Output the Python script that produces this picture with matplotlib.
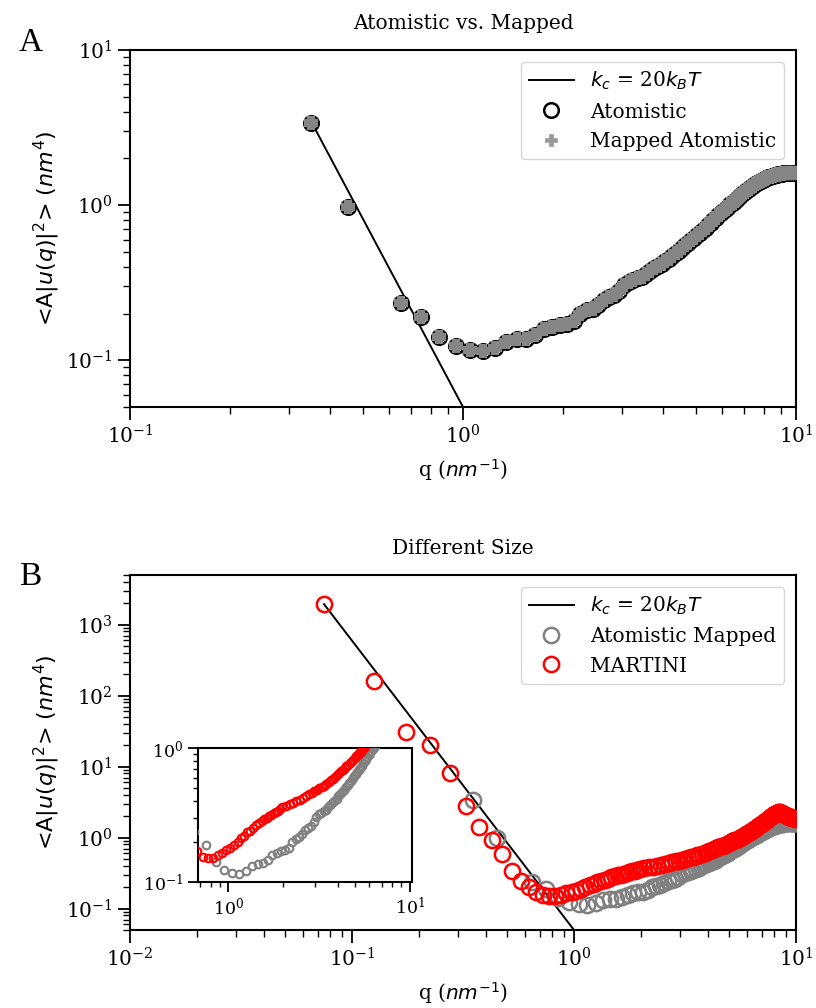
import matplotlib
matplotlib.use('Agg')
import matplotlib.pyplot as plt
from matplotlib.ticker import NullFormatter, LogLocator
from matplotlib.lines import Line2D

plt.rcParams['font.family'] = ['DejaVu Serif']
plt.rcParams['mathtext.fontset'] = 'dejavusans'
plt.rcParams['font.size'] = 14

# ---------------- data ----------------
atom_q = [0.35, 0.45, 0.65, 0.75, 0.85, 0.95, 1.05, 1.15, 1.25, 1.35, 1.45, 1.55,
          1.65, 1.75, 1.85, 1.95, 2.05, 2.15, 2.25, 2.35, 2.45, 2.55, 2.65, 2.75,
          2.85, 2.95, 3.05, 3.15, 3.25, 3.35, 3.45, 3.55, 3.65, 3.75, 3.85, 3.95,
          4.05, 4.15, 4.25, 4.35, 4.45, 4.55, 4.65, 4.75, 4.85, 4.95, 5.05, 5.15,
          5.25, 5.35, 5.45, 5.55, 5.65, 5.75, 5.85, 5.95, 6.05, 6.15, 6.25, 6.35,
          6.45, 6.55, 6.65, 6.75, 6.85, 6.95, 7.05, 7.15, 7.25, 7.35, 7.45, 7.55,
          7.65, 7.75, 7.85, 7.95, 8.05, 8.15, 8.25, 8.35, 8.45, 8.55, 8.65, 8.75,
          8.85, 8.95, 9.05, 9.15, 9.25, 9.35, 9.45, 9.55, 9.65, 9.75, 9.85, 9.95]
atom_y = [3.38, 0.98, 0.235, 0.19, 0.142, 0.123, 0.116, 0.114, 0.12, 0.132, 0.137, 0.138,
          0.145, 0.158, 0.165, 0.17, 0.172, 0.18, 0.20, 0.21, 0.215, 0.228, 0.245, 0.255,
          0.262, 0.28, 0.305, 0.322, 0.33, 0.338, 0.345, 0.36, 0.378, 0.392, 0.405, 0.42,
          0.435, 0.452, 0.47, 0.49, 0.51, 0.53, 0.55, 0.57, 0.595, 0.615, 0.64, 0.665,
          0.69, 0.715, 0.74, 0.77, 0.80, 0.83, 0.86, 0.89, 0.92, 0.95, 0.98, 1.01,
          1.04, 1.07, 1.10, 1.13, 1.16, 1.19, 1.22, 1.25, 1.28, 1.31, 1.33, 1.36,
          1.39, 1.42, 1.44, 1.46, 1.48, 1.50, 1.52, 1.53, 1.54, 1.55, 1.56, 1.57,
          1.58, 1.59, 1.59, 1.60, 1.60, 1.60, 1.61, 1.61, 1.61, 1.61, 1.61, 1.61]
mapped_y = list(atom_y)

martini_q = [0.075, 0.125, 0.175, 0.225, 0.275, 0.325, 0.375, 0.425, 0.475, 0.525,
             0.575, 0.625, 0.675, 0.725, 0.775, 0.825, 0.875, 0.925, 0.975, 1.025,
             1.075, 1.125, 1.175, 1.225, 1.275, 1.325, 1.375, 1.425, 1.475, 1.525,
             1.575, 1.625, 1.675, 1.725, 1.775, 1.825, 1.875, 1.925, 1.975,
             2.075, 2.175, 2.275, 2.375, 2.475, 2.575, 2.675, 2.775, 2.875, 2.975,
             3.075, 3.175, 3.275, 3.375, 3.475, 3.575, 3.675, 3.775, 3.875, 3.975,
             4.075, 4.175, 4.275, 4.375, 4.475, 4.575, 4.675, 4.775, 4.875, 4.975,
             5.075, 5.175, 5.275, 5.375, 5.475, 5.575, 5.675, 5.775, 5.875, 5.975,
             6.075, 6.175, 6.275, 6.375, 6.475, 6.575, 6.675, 6.775, 6.875, 6.975,
             7.075, 7.175, 7.275, 7.375, 7.475, 7.575, 7.675, 7.775, 7.875, 7.975,
             8.075, 8.175, 8.275, 8.375, 8.475, 8.575, 8.675, 8.775, 8.875, 8.975,
             9.075, 9.175, 9.275, 9.375, 9.475, 9.575, 9.675, 9.775, 9.875, 9.975]
martini_y = [1940, 162, 31, 20, 8.1, 2.8, 1.42, 0.94, 0.58, 0.335,
             0.243, 0.20, 0.17, 0.155, 0.15, 0.152, 0.158, 0.166, 0.172, 0.178,
             0.19, 0.20, 0.212, 0.22, 0.235, 0.242, 0.255, 0.265, 0.278, 0.285,
             0.295, 0.30, 0.31, 0.318, 0.325, 0.335, 0.34, 0.35, 0.36,
             0.37, 0.38, 0.39, 0.40, 0.41, 0.425, 0.44, 0.455, 0.465, 0.475,
             0.49, 0.50, 0.51, 0.525, 0.54, 0.56, 0.575, 0.59, 0.61, 0.63,
             0.65, 0.67, 0.69, 0.71, 0.73, 0.75, 0.77, 0.79, 0.81, 0.84,
             0.87, 0.89, 0.92, 0.94, 0.97, 1.00, 1.03, 1.06, 1.10, 1.13,
             1.17, 1.21, 1.25, 1.29, 1.33, 1.37, 1.41, 1.46, 1.50, 1.55,
             1.60, 1.65, 1.70, 1.76, 1.82, 1.88, 1.94, 2.00, 2.06, 2.12,
             2.18, 2.23, 2.27, 2.29, 2.28, 2.24, 2.20, 2.15, 2.10, 2.06,
             2.02, 1.99, 1.96, 1.94, 1.92, 1.90, 1.89, 1.87, 1.86, 1.85]

# k_c = 20 kBT reference lines (end points)
lineA_q = [0.352, 1.0]
lineA_y = [3.38, 0.05]
lineB_q = [0.0748, 1.0]
lineB_y = [1940, 0.05]

# ---------------- figure ----------------
fig = plt.figure(figsize=(8.16, 10.08), dpi=100)
axA = fig.add_axes([0.1593, 0.5962, 0.8162, 0.3542])
axB = fig.add_axes([0.1593, 0.0774, 0.8162, 0.3522])
axI = fig.add_axes([0.2426, 0.125, 0.2623, 0.1329])

FS = 14.5

def style(ax, big=True):
    ax.set_xscale('log')
    ax.set_yscale('log')
    for s in ax.spines.values():
        s.set_linewidth(1.5)
    L = 9 if big else 7
    ax.tick_params(which='major', length=L, width=1.3, direction='out',
                   labelsize=FS if big else 12.5)
    ax.tick_params(which='minor', length=L * 0.55, width=1.0, direction='out')
    ax.xaxis.set_minor_formatter(NullFormatter())
    ax.yaxis.set_minor_formatter(NullFormatter())

ylab = r'<A$|u(q)|^2$> $(nm^4)$'
xlab = r'q ($nm^{-1}$)'

# ---- Panel A ----
style(axA)
hl, = axA.plot(lineA_q, lineA_y, color='k', lw=1.4, label=r'$k_c$ = 20$k_BT$', zorder=2)
ha, = axA.plot(atom_q, atom_y, 'o', mfc='none', mec='k', ms=10.5, mew=1.8,
               label='Atomistic', zorder=3)
axA.plot(atom_q, mapped_y, 'P', mfc='#a0a0a0', mec='#858585', ms=6.5, mew=3.0,
         zorder=3.5)
hm = Line2D([], [], ls='none', marker='P', mfc='#999999', mec='#999999', ms=8, mew=0.5,
            label='Mapped Atomistic')
axA.set_xlim(0.1, 10)
axA.set_ylim(0.05, 10)
axA.set_title('Atomistic vs. Mapped', fontsize=FS, pad=15)
axA.set_xlabel(xlab, fontsize=FS, labelpad=7)
axA.set_ylabel(ylab, fontsize=16, family='DejaVu Sans', labelpad=3)
axA.legend(handles=[hl, ha, hm], loc='upper right', fontsize=FS,
           borderaxespad=0.6, handlelength=2.2)

# ---- Panel B ----
style(axB)
axB.plot(lineB_q, lineB_y, color='k', lw=1.4, label=r'$k_c$ = 20$k_BT$', zorder=2)
axB.plot(atom_q, atom_y, 'o', mfc='none', mec='gray', ms=11, mew=1.8,
         label='Atomistic Mapped', zorder=3)
axB.plot(martini_q, martini_y, 'o', mfc='none', mec='red', ms=11, mew=1.8,
         label='MARTINI', zorder=4)
axB.set_xlim(0.01, 10)
axB.set_ylim(0.05, 5000)
axB.yaxis.set_minor_locator(LogLocator(base=10, subs=range(2, 10), numticks=20))
axB.set_title('Different Size', fontsize=FS, pad=15)
axB.set_xlabel(xlab, fontsize=FS, labelpad=7)
axB.set_ylabel(ylab, fontsize=16, family='DejaVu Sans', labelpad=3)
axB.legend(loc='upper right', fontsize=FS, borderaxespad=0.6, handlelength=2.2)

# ---- Inset ----
style(axI, big=False)
axI.plot(atom_q, atom_y, 'o', mfc='none', mec='gray', ms=5.5, mew=1.5, zorder=3)
axI.plot(martini_q, martini_y, 'o', mfc='none', mec='red', ms=5.5, mew=1.5, zorder=4)
axI.set_xlim(0.68, 10.3)
axI.set_ylim(0.1, 1.0)
axI.set_facecolor('white')

fig.text(0.037, 0.958, 'A', fontfamily='Liberation Serif', fontsize=24,
         ha='center', va='center')
fig.text(0.037, 0.428, 'B', fontfamily='Liberation Serif', fontsize=24,
         ha='center', va='center')

fig.savefig('out.png', dpi=100)
